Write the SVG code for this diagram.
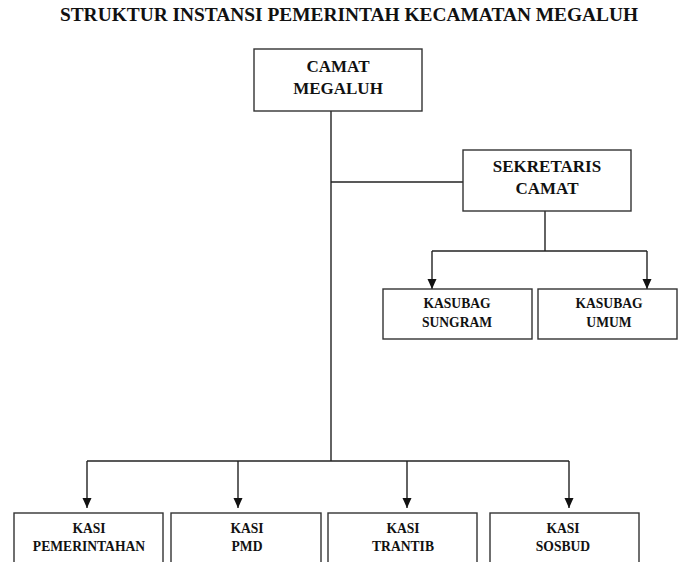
<svg xmlns="http://www.w3.org/2000/svg" width="678" height="562" viewBox="0 0 678 562">
<style>
.box{fill:#fff;stroke:#333;stroke-width:1.4}
.ln{fill:none;stroke:#222;stroke-width:1.4}
text{font-family:"Liberation Serif","Times New Roman",serif;font-weight:bold;fill:#111;text-anchor:middle}
.t1{font-size:17px}
.t2{font-size:13.6px}
.title{font-size:19.4px}
</style>
<defs>
<marker id="ah" viewBox="0 0 10 10" refX="10" refY="5" markerWidth="10" markerHeight="10" markerUnits="userSpaceOnUse" orient="auto">
<path d="M0,0.5 L10,5 L0,9.5 Z" fill="#111"/>
</marker>
</defs>
<rect width="678" height="562" fill="#fff"/>
<text class="title" x="349" y="21">STRUKTUR INSTANSI PEMERINTAH KECAMATAN MEGALUH</text>
<g id="connectors">
<path class="ln" d="M331,111 V461"/>
<path class="ln" d="M331,182 H463"/>
<path class="ln" d="M545,211 V251"/>
<path class="ln" d="M432,251 H647"/>
<path class="ln" d="M432,251 V289" marker-end="url(#ah)"/>
<path class="ln" d="M647,251 V289" marker-end="url(#ah)"/>
<path class="ln" d="M87,461 H569"/>
<path class="ln" d="M87,461 V508" marker-end="url(#ah)"/>
<path class="ln" d="M238,461 V508" marker-end="url(#ah)"/>
<path class="ln" d="M407,461 V508" marker-end="url(#ah)"/>
<path class="ln" d="M569,461 V508" marker-end="url(#ah)"/>
</g>
<g id="camat">
<rect class="box" x="254" y="49" width="168" height="62"/>
<text class="t1" x="338" y="72">CAMAT</text>
<text class="t1" x="338" y="94">MEGALUH</text>
</g>
<g id="sekretaris">
<rect class="box" x="463" y="150" width="168" height="61"/>
<text class="t1" x="547" y="172">SEKRETARIS</text>
<text class="t1" x="547" y="194">CAMAT</text>
</g>
<g id="kasubag-sungram">
<rect class="box" x="383" y="289" width="149" height="50"/>
<text class="t2" x="457" y="308">KASUBAG</text>
<text class="t2" x="457" y="327">SUNGRAM</text>
</g>
<g id="kasubag-umum">
<rect class="box" x="538" y="289" width="139" height="50"/>
<text class="t2" x="609" y="308">KASUBAG</text>
<text class="t2" x="609" y="327">UMUM</text>
</g>
<g id="kasi-pemerintahan">
<rect class="box" x="14" y="513" width="149" height="60"/>
<text class="t2" x="89" y="533">KASI</text>
<text class="t2" x="89" y="551">PEMERINTAHAN</text>
</g>
<g id="kasi-pmd">
<rect class="box" x="171" y="513" width="150" height="60"/>
<text class="t2" x="247" y="533">KASI</text>
<text class="t2" x="247" y="551">PMD</text>
</g>
<g id="kasi-trantib">
<rect class="box" x="328" y="513" width="149" height="60"/>
<text class="t2" x="403" y="533">KASI</text>
<text class="t2" x="403" y="551">TRANTIB</text>
</g>
<g id="kasi-sosbud">
<rect class="box" x="490" y="513" width="149" height="60"/>
<text class="t2" x="563" y="533">KASI</text>
<text class="t2" x="563" y="551">SOSBUD</text>
</g>
</svg>
